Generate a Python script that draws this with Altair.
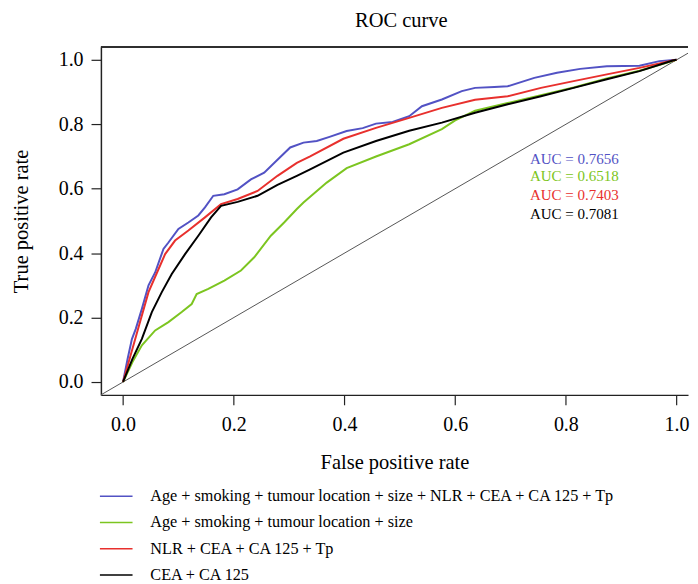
import altair as alt
import pandas as pd

FONT = "Liberation Serif"

labels = [
    "Age + smoking + tumour location + size + NLR + CEA + CA 125 + Tp",
    "Age + smoking + tumour location + size",
    "NLR + CEA + CA 125 + Tp",
    "CEA + CA 125",
]
colors = ["#5252C4", "#7CC520", "#E8302D", "#000000"]

auc_text = ["AUC = 0.7656", "AUC = 0.6518", "AUC = 0.7403", "AUC = 0.7081"]
auc_x = [0.735, 0.735, 0.735, 0.735]
auc_y = [0.693, 0.638, 0.579, 0.520]

blue_fpr = [0, 0.008, 0.016, 0.023, 0.034, 0.046, 0.058, 0.073, 0.082, 0.10, 0.118, 0.136,
            0.148, 0.163, 0.183, 0.207, 0.231, 0.255, 0.279, 0.302, 0.326, 0.35, 0.373,
            0.404, 0.433, 0.457, 0.487, 0.517, 0.54, 0.576, 0.612, 0.636, 0.671, 0.695,
            0.743, 0.784, 0.826, 0.874, 0.933, 0.969, 1.0]
blue_tpr = [0, 0.07, 0.133, 0.165, 0.227, 0.30, 0.34, 0.413, 0.433, 0.475, 0.495, 0.517,
            0.542, 0.578, 0.583, 0.598, 0.629, 0.65, 0.69, 0.728, 0.743, 0.748, 0.761,
            0.779, 0.788, 0.802, 0.807, 0.825, 0.856, 0.877, 0.903, 0.913, 0.916, 0.918,
            0.944, 0.96, 0.972, 0.98, 0.982, 0.996, 1.0]

green_fpr = [0, 0.017, 0.034, 0.058, 0.082, 0.106, 0.124, 0.133, 0.154, 0.183, 0.213, 0.237,
             0.267, 0.291, 0.314, 0.326, 0.368, 0.404, 0.457, 0.517, 0.576, 0.6, 0.636,
             0.695, 0.755, 0.814, 0.874, 0.933, 1.0]
green_tpr = [0, 0.062, 0.114, 0.16, 0.186, 0.217, 0.242, 0.273, 0.289, 0.315, 0.346, 0.387,
             0.454, 0.495, 0.537, 0.557, 0.619, 0.664, 0.70, 0.738, 0.785, 0.812, 0.842,
             0.866, 0.89, 0.914, 0.942, 0.966, 1.0]

red_fpr = [0, 0.017, 0.029, 0.046, 0.064, 0.076, 0.094, 0.118, 0.148, 0.177, 0.207, 0.243,
           0.279, 0.314, 0.338, 0.398, 0.457, 0.517, 0.576, 0.636, 0.695, 0.755, 0.814,
           0.874, 0.933, 0.993, 1.0]
red_tpr = [0, 0.103, 0.176, 0.279, 0.35, 0.397, 0.439, 0.47, 0.511, 0.552, 0.568, 0.593,
           0.64, 0.68, 0.70, 0.755, 0.789, 0.82, 0.851, 0.876, 0.887, 0.913, 0.934,
           0.955, 0.975, 0.998, 1.0]

black_fpr = [0, 0.017, 0.034, 0.052, 0.07, 0.088, 0.112, 0.136, 0.159, 0.177, 0.207, 0.243,
             0.279, 0.314, 0.338, 0.398, 0.457, 0.517, 0.576, 0.636, 0.695, 0.755, 0.814,
             0.874, 0.933, 0.993, 1.0]
black_tpr = [0, 0.072, 0.134, 0.217, 0.279, 0.335, 0.397, 0.454, 0.511, 0.547, 0.559, 0.578,
             0.612, 0.64, 0.66, 0.712, 0.748, 0.78, 0.805, 0.836, 0.862, 0.887, 0.913,
             0.94, 0.965, 0.998, 1.0]

diag_x = [-0.04, 1.04]
diag_y = [-0.04, 1.04]
frame_top = 1.04

x_ticks = [0.0, 0.2, 0.4, 0.6, 0.8, 1.0]
y_ticks = [0.0, 0.2, 0.4, 0.6, 0.8, 1.0]

rows = []
for lab, fx, ty in zip(labels, [blue_fpr, green_fpr, red_fpr, black_fpr],
                       [blue_tpr, green_tpr, red_tpr, black_tpr]):
    for i, (a, b) in enumerate(zip(fx, ty)):
        rows.append({"model": lab, "fpr": a, "tpr": b, "idx": i})
df = pd.DataFrame(rows)

df_auc = pd.DataFrame({"model": labels, "fpr": auc_x, "tpr": auc_y, "text": auc_text})
df_diag = pd.DataFrame({"fpr": diag_x, "tpr": diag_y})

XMAX = -0.04 + 594 / 560
xscale = alt.Scale(domain=[-0.04, XMAX], nice=False, zero=False)
yscale = alt.Scale(domain=[-0.04, 1.04], nice=False, zero=False)
cscale = alt.Scale(domain=labels, range=colors)

xaxis = alt.Axis(values=x_ticks, format=".1f", title="False positive rate",
                 labelPadding=10, titlePadding=18, grid=False, labelFlush=False)
yaxis = alt.Axis(values=y_ticks, format=".1f", title="True positive rate",
                 labelPadding=8, titlePadding=27, grid=False, labelFlush=False)

diag = alt.Chart(df_diag).mark_line(color="#555555", strokeWidth=1, clip=True).encode(
    x=alt.X("fpr:Q", scale=xscale, axis=xaxis),
    y=alt.Y("tpr:Q", scale=yscale, axis=yaxis),
)

top = alt.Chart(df_diag).mark_rule(color="#222222", strokeWidth=1.5).encode(
    y=alt.datum(frame_top, scale=yscale),
)

lines = alt.Chart(df).mark_line(strokeWidth=2, clip=True).encode(
    x=alt.X("fpr:Q", scale=xscale, axis=xaxis),
    y=alt.Y("tpr:Q", scale=yscale, axis=yaxis),
    color=alt.Color("model:N", scale=cscale,
                    legend=alt.Legend(orient="none", legendX=-2, legendY=437, title=None,
                                      symbolType="stroke", symbolSize=1089,
                                      symbolStrokeWidth=1.5, labelFont=FONT,
                                      labelFontSize=16.4, labelOffset=17, labelLimit=0,
                                      rowPadding=0.6, padding=0, labelColor="black")),
    order="idx:Q",
)

auc = alt.Chart(df_auc).mark_text(font=FONT, fontSize=15.2, align="left",
                                  baseline="middle").encode(
    x=alt.X("fpr:Q", scale=xscale, axis=xaxis),
    y=alt.Y("tpr:Q", scale=yscale, axis=yaxis),
    text="text:N",
    color=alt.Color("model:N", scale=cscale, legend=None),
)

chart = alt.layer(diag, top, lines, auc).properties(
    width=594,
    height=352,
    background="white",
    autosize=alt.AutoSizeParams(type="none"),
    padding={"left": 94, "top": 36, "right": 2, "bottom": 195},
    title=alt.TitleParams("ROC curve", font=FONT, fontSize=20.7, fontWeight="normal",
                          color="black", offset=15, dx=7),
).configure_view(stroke=None).configure_axis(
    domainColor="#222222", domainWidth=1.5, tickColor="#222222", tickWidth=1.2,
    tickSize=10, labelFont=FONT, labelFontSize=20.2, labelColor="black",
    titleFont=FONT, titleFontSize=20.7, titleFontWeight="normal", titleColor="black",
)

chart.save("out.html", embed_options={"renderer": "svg", "actions": False})
